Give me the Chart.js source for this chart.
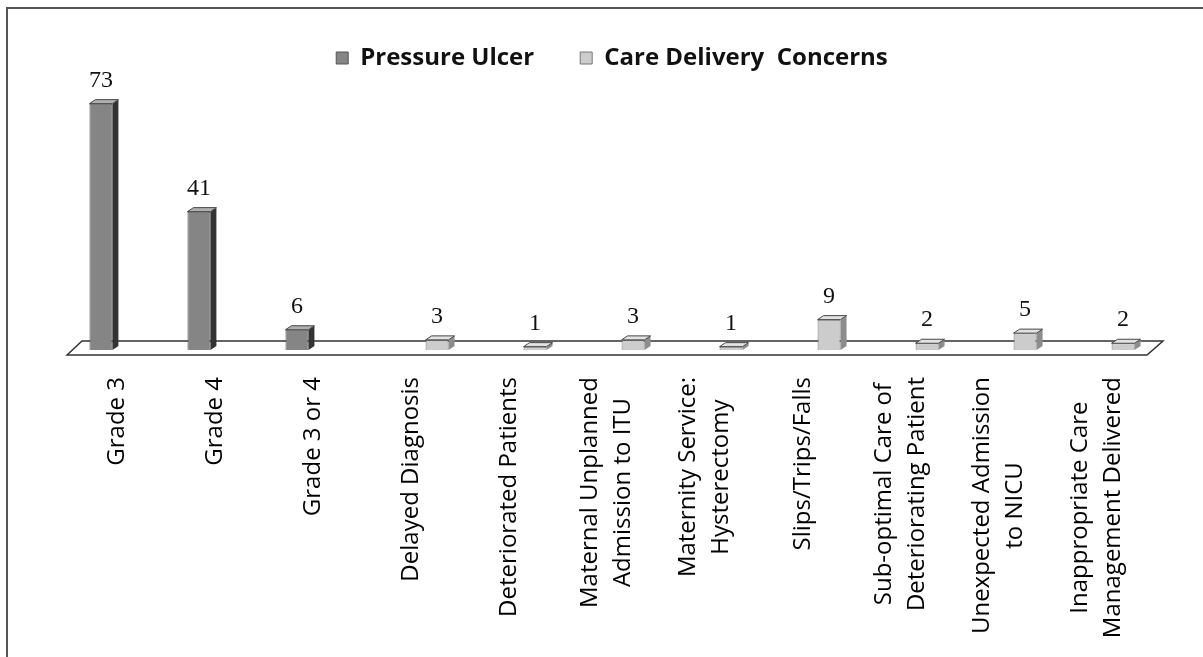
<!DOCTYPE html>
<html>
<head>
<meta charset="utf-8">
<script src="https://cdn.jsdelivr.net/npm/chart.js@4.4.0/dist/chart.umd.min.js"></script>
<style>
  html, body { margin: 0; padding: 0; background: #fff; }
  #wrap { width: 1203px; height: 657px; position: relative; }
</style>
</head>
<body>
<div id="wrap"><canvas id="canvas"></canvas></div>
<script>
var categories = [
  'Grade 3',
  'Grade 4',
  'Grade 3 or 4',
  'Delayed Diagnosis',
  'Deteriorated Patients',
  ['Maternal Unplanned', 'Admission to ITU'],
  ['Maternity Service:', 'Hysterectomy'],
  'Slips/Trips/Falls',
  ['Sub-optimal Care of', 'Deteriorating Patient'],
  ['Unexpected Admission', 'to NICU'],
  ['Inappropriate Care', 'Management Delivered']
];
var seriesNames = ['Pressure Ulcer', 'Care Delivery  Concerns'];
var pressureUlcer = [73, 41, 6, null, null, null, null, null, null, null, null];
var careDelivery = [null, null, null, 3, 1, 3, 1, 9, 2, 5, 2];

var frontColors = ['#858585', '#cccccc'];
var sideColors = ['#333333', '#8c8c8c'];
var topColors = ['#b0b0b0', '#e2e2e2'];

// scanned frame (top + left edge) and the 3d floor under the bars
var frameAndFloor = {
  id: 'frameAndFloor',
  beforeDraw: function(chart) {
    var ctx = chart.ctx;
    ctx.save();
    ctx.strokeStyle = '#555';
    ctx.lineWidth = 2;
    ctx.beginPath();
    ctx.moveTo(7, chart.height);
    ctx.lineTo(7, 8);
    ctx.lineTo(chart.width, 8);
    ctx.stroke();
    ctx.restore();
  },
  beforeDatasetsDraw: function(chart) {
    var a = chart.chartArea, ctx = chart.ctx, b = a.bottom;
    ctx.save();
    ctx.beginPath();
    ctx.moveTo(a.left - 6, b + 5);
    ctx.lineTo(a.left + 9, b - 9);
    ctx.lineTo(a.right + 12, b - 9);
    ctx.lineTo(a.right - 4, b + 5);
    ctx.closePath();
    ctx.fillStyle = '#fff';
    ctx.fill();
    ctx.strokeStyle = '#333';
    ctx.lineWidth = 1.5;
    ctx.stroke();
    ctx.restore();
  }
};

// side + top faces and the value above each bar
var barDepth = {
  id: 'barDepth',
  afterDatasetsDraw: function(chart) {
    var ctx = chart.ctx;
    ctx.save();
    chart.data.datasets.forEach(function(ds, i) {
      var meta = chart.getDatasetMeta(i);
      meta.data.forEach(function(bar, j) {
        if (ds.data[j] == null) return;
        var p = bar.getProps(['x', 'y', 'base', 'width'], true);
        var l = p.x - p.width / 2, r = p.x + p.width / 2;
        ctx.fillStyle = sideColors[i];
        ctx.beginPath();
        ctx.moveTo(r, p.base);
        ctx.lineTo(r + 6, p.base - 4);
        ctx.lineTo(r + 6, p.y - 4);
        ctx.lineTo(r, p.y);
        ctx.closePath();
        ctx.fill();
        ctx.fillStyle = topColors[i];
        ctx.beginPath();
        ctx.moveTo(l, p.y);
        ctx.lineTo(l + 6, p.y - 4);
        ctx.lineTo(r + 6, p.y - 4);
        ctx.lineTo(r, p.y);
        ctx.closePath();
        ctx.fill();
        ctx.strokeStyle = '#444';
        ctx.lineWidth = 1;
        ctx.stroke();

        ctx.fillStyle = '#111';
        ctx.font = '24px "Liberation Serif"';
        ctx.textAlign = 'center';
        ctx.textBaseline = 'alphabetic';
        ctx.fillText(ds.data[j], p.x, p.y - 17);
      });
    });
    ctx.restore();
  }
};

// centre the two-line category labels like the original
var labelCentering = {
  id: 'labelCentering',
  beforeDraw: function(chart) {
    var scale = chart.scales.x;
    var items = scale.getLabelItems();
    var ctx = chart.ctx;
    items.forEach(function(item) {
      if (!Array.isArray(item.label) || item.label.length < 2) return;
      ctx.save();
      ctx.font = item.font.string;
      var maxW = 0;
      item.label.forEach(function(line) {
        maxW = Math.max(maxW, ctx.measureText(line).width);
      });
      ctx.restore();
      var lh = item.font.lineHeight;
      item.options.translation[0] -= lh * (item.label.length - 1) / 2;
      item.options.translation[1] += maxW / 2;
      item.options.textAlign = 'center';
    });
  }
};

new Chart(document.getElementById('canvas'), {
  type: 'bar',
  data: {
    labels: categories,
    datasets: [{
      label: seriesNames[0],
      data: pressureUlcer,
      backgroundColor: frontColors[0],
      borderColor: '#555',
      borderWidth: 1,
      categoryPercentage: 0.86,
      barPercentage: 0.545
    }, {
      label: seriesNames[1],
      data: careDelivery,
      backgroundColor: frontColors[1],
      borderColor: '#777',
      borderWidth: 1,
      categoryPercentage: 0.86,
      barPercentage: 0.545
    }]
  },
  options: {
    responsive: true,
    maintainAspectRatio: false,
    animation: false,
    layout: {
      padding: { left: 73, right: 52, top: 0, bottom: 0 }
    },
    plugins: {
      legend: {
        position: 'top',
        align: 'center',
        labels: {
          color: '#111',
          boxWidth: 12,
          boxHeight: 12,
          padding: 46,
          font: { family: 'Open Sans', size: 24, weight: 'bold' }
        }
      },
      tooltip: { enabled: false }
    },
    scales: {
      x: {
        grid: { display: false, drawTicks: false },
        border: { display: false },
        ticks: {
          autoSkip: false,
          minRotation: 90,
          maxRotation: 90,
          padding: 27,
          labelOffset: -5,
          color: '#000',
          font: { family: 'Open Sans', size: 24, lineHeight: 1.375 }
        },
        afterFit: function(scale) {
          scale.height = 307;
        }
      },
      y: {
        display: false,
        min: 0,
        max: 80
      }
    }
  },
  plugins: [frameAndFloor, barDepth, labelCentering]
});
</script>
</body>
</html>
